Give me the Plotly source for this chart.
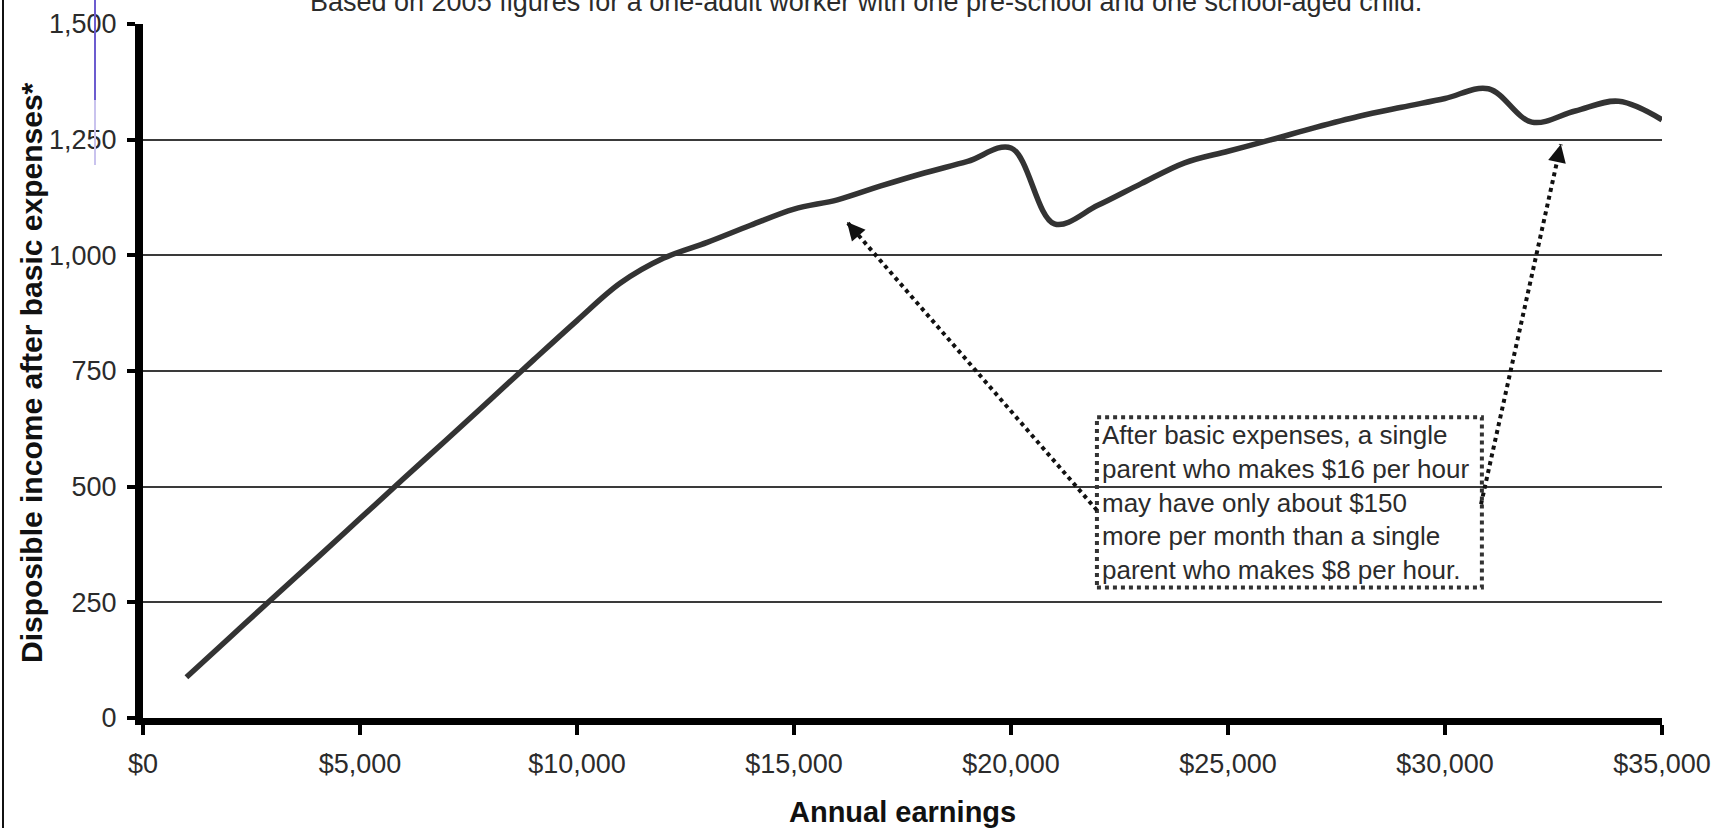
import plotly.graph_objects as go

# ---- data ----
earnings = [1000, 2000, 3000, 4000, 5000, 6000, 7000, 8000, 9000, 10000,
            11000, 12000, 13000, 14000, 15000, 16000, 17000, 18000, 19000, 20000,
            21000, 22000, 23000, 24000, 25000, 26000, 27000, 28000, 29000, 30000,
            31000, 32000, 33000, 34000, 35000]
disposable = [88, 174, 260, 345, 431, 517, 602, 688, 774, 859,
              940, 994, 1028, 1065, 1100, 1120, 1150, 1178, 1203, 1232,
              1068, 1108, 1155, 1200, 1225, 1250, 1276, 1300, 1320, 1339,
              1360, 1288, 1312, 1333, 1293]

x_tick_vals = [0, 5000, 10000, 15000, 20000, 25000, 30000, 35000]
x_tick_text = ["$0", "$5,000", "$10,000", "$15,000", "$20,000", "$25,000", "$30,000", "$35,000"]
y_tick_vals = [0, 250, 500, 750, 1000, 1250, 1500]
y_tick_text = ["0", "250", "500", "750", "1,000", "1,250", "1,500"]

title_text = "Based on 2005 figures for a one-adult worker with one pre-school and one school-aged child."
y_title = "Disposible income after basic expenses*"
x_title = "Annual earnings"
note_lines = ["After basic expenses, a single",
              "parent who makes $16 per hour",
              "may have only about $150",
              "more per month than a single",
              "parent who makes $8 per hour."]

# annotation geometry (data coords)
box_x = [21980, 30850]
box_y = [282, 650]
arrow1_from = (21980, 449)
arrow1_to = (16220, 1072)
arrow2_from = (30830, 462)
arrow2_to = (32670, 1240)

W, H = 1720, 828
ML, MR, MT, MB = 143, 58, 24, 110
PW, PH = W - ML - MR, H - MT - MB

def px(x, y):
    return (ML + x / 35000 * PW, MT + (1 - y / 1500) * PH)

FONT = "Liberation Sans, Arial, sans-serif"
INK = "#2b2b2b"

fig = go.Figure()
fig.add_trace(go.Scatter(
    x=earnings, y=disposable, mode="lines",
    line=dict(color="#333333", width=5.5, shape="spline", smoothing=1.0),
    hoverinfo="skip", showlegend=False))

shapes = []
# dotted box
shapes.append(dict(type="rect", xref="x", yref="y", x0=box_x[0], x1=box_x[1], y0=box_y[0], y1=box_y[1],
                   line=dict(color="#333333", width=4, dash="dot"), fillcolor="rgba(0,0,0,0)", layer="above"))
# dotted arrow shafts
for a, b in [(arrow1_from, arrow1_to), (arrow2_from, arrow2_to)]:
    shapes.append(dict(type="line", xref="x", yref="y", x0=a[0], y0=a[1], x1=b[0], y1=b[1],
                       line=dict(color="#111111", width=4, dash="dot"), layer="above"))
# left frame line and a purple artefact line
shapes.append(dict(type="line", xref="paper", yref="paper",
                   x0=(3 - ML) / PW, x1=(3 - ML) / PW, y0=(H - MT) / PH + 0.05, y1=-(MB) / PH - 0.05,
                   line=dict(color="#111111", width=2)))
shapes.append(dict(type="line", xref="paper", yref="paper",
                   x0=(95 - ML) / PW, x1=(95 - ML) / PW, y0=1 + MT / PH + 0.01, y1=1 - (100 - MT) / PH,
                   line=dict(color="#6c5ccf", width=2)))
shapes.append(dict(type="line", xref="paper", yref="paper",
                   x0=(95 - ML) / PW, x1=(95 - ML) / PW, y0=1 - (100 - MT) / PH, y1=1 - (165 - MT) / PH,
                   line=dict(color="#c9c3ee", width=2)))

annotations = []
# arrow heads
for a, b in [(arrow1_from, arrow1_to), (arrow2_from, arrow2_to)]:
    ax0, ay0 = px(*a)
    bx0, by0 = px(*b)
    dx, dy = ax0 - bx0, ay0 - by0
    L = (dx * dx + dy * dy) ** 0.5
    annotations.append(dict(x=b[0], y=b[1], xref="x", yref="y", text="", showarrow=True,
                            ax=dx / L * 12, ay=dy / L * 12, axref="pixel", ayref="pixel",
                            arrowhead=2, arrowsize=0.9, arrowwidth=4, arrowcolor="#111111"))
# note text
annotations.append(dict(x=box_x[0] + 70, y=(box_y[0] + box_y[1]) / 2, xref="x", yref="y",
                        text="<br>".join(note_lines), showarrow=False, xanchor="left", yanchor="middle",
                        align="left", font=dict(family=FONT, size=26, color=INK)))
# title
annotations.append(dict(x=(866 - ML) / PW, y=1 + (MT - 2) / PH, xref="paper", yref="paper",
                        text=title_text, showarrow=False, xanchor="center", yanchor="middle",
                        font=dict(family=FONT, size=27, color=INK)))
# axis titles
annotations.append(dict(x=(31 - ML) / PW, y=(H - MB - 373) / PH, xref="paper", yref="paper",
                        text="<b>" + y_title + "</b>", textangle=-90, showarrow=False,
                        xanchor="center", yanchor="middle", font=dict(family=FONT, size=30, color="#111111")))
annotations.append(dict(x=(902 - ML) / PW, y=-(812 - (H - MB)) / PH, xref="paper", yref="paper",
                        text="<b>" + x_title + "</b>", showarrow=False,
                        xanchor="center", yanchor="middle", font=dict(family=FONT, size=29, color="#111111")))

fig.update_layout(
    width=W, height=H,
    margin=dict(l=ML, r=MR, t=MT, b=MB, pad=0, autoexpand=False),
    paper_bgcolor="white", plot_bgcolor="white",
    shapes=shapes, annotations=annotations,
    xaxis=dict(range=[0, 35000], tickvals=x_tick_vals, ticktext=x_tick_text, automargin=False,
               showgrid=False, zeroline=False, showline=True, linecolor="black", linewidth=7,
               ticks="outside", ticklen=10, tickwidth=4, tickcolor="black",
               ticklabelstandoff=6,
               tickfont=dict(family=FONT, size=27, color=INK), fixedrange=True),
    yaxis=dict(range=[0, 1500], tickvals=y_tick_vals, ticktext=y_tick_text, automargin=False,
               showgrid=True, gridcolor="#3a3a3a", gridwidth=2, zeroline=False,
               showline=True, linecolor="black", linewidth=8,
               ticks="outside", ticklen=8, tickwidth=4, tickcolor="black",
               ticklabelstandoff=5,
               tickfont=dict(family=FONT, size=27, color=INK), fixedrange=True),
)

fig.write_html("out.html")
